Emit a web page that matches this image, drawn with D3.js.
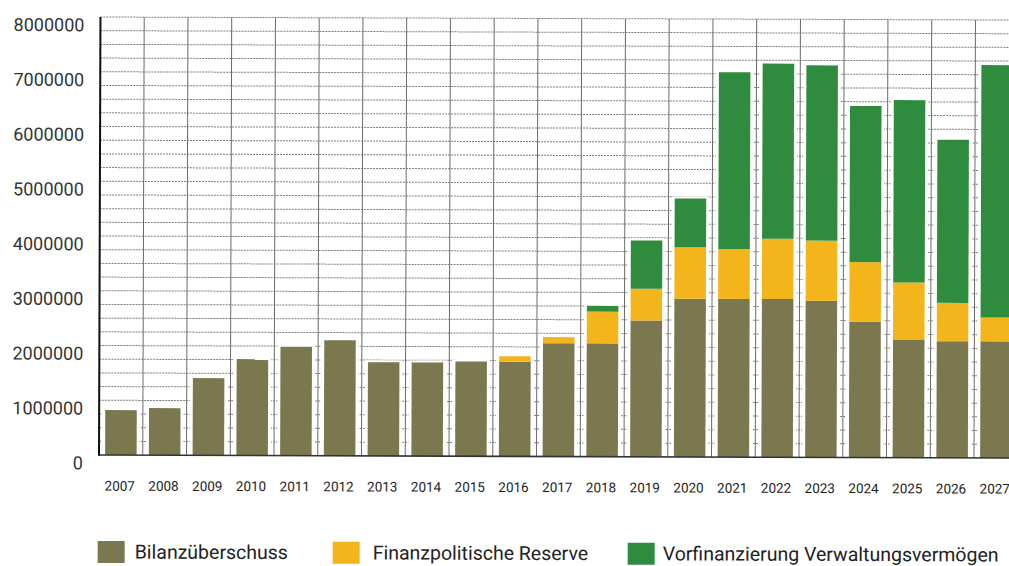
<!DOCTYPE html>
<html>
<head>
<meta charset="utf-8">
<script src="https://cdn.jsdelivr.net/npm/d3@7"></script>
<style>
  html, body { margin: 0; padding: 0; background: #fff; }
  svg { display: block; }
</style>
</head>
<body>
<svg id="chart" width="1009" height="566"></svg>
<script>
// ---- data ----
const years = ["2007","2008","2009","2010","2011","2012","2013","2014","2015","2016","2017",
               "2018","2019","2020","2021","2022","2023","2024","2025","2026","2027"];
const bilanzueberschuss = [820000, 860000, 1410000, 1760000, 1990000, 2110000, 1710000, 1710000, 1730000, 1730000, 2070000,
                           2070000, 2490000, 2890000, 2890000, 2890000, 2860000, 2480000, 2150000, 2130000, 2130000];
const finanzpolitischeReserve = [0, 0, 0, 0, 0, 0, 0, 0, 0, 100000, 110000,
                                 580000, 580000, 940000, 910000, 1100000, 1100000, 1090000, 1050000, 700000, 435000];
const vorfinanzierung = [0, 0, 0, 0, 0, 0, 0, 0, 0, 0, 0,
                         105000, 880000, 890000, 3230000, 3200000, 3200000, 2850000, 3330000, 2980000, 4610000];
const seriesNames = ["Bilanzüberschuss", "Finanzpolitische Reserve", "Vorfinanzierung Verwaltungsvermögen"];
const yTicks = [0, 1000000, 2000000, 3000000, 4000000, 5000000, 6000000, 7000000, 8000000];
const colors = ["#7b774f", "#f3b51b", "#2f8b3d"];

// ---- layout ----
const svg = d3.select("#chart");
const g = svg.append("g").attr("transform", "rotate(0.19, 100, 455)");

const step = 43.75;
const x = d3.scaleBand().domain(years)
  .range([99, 99 + years.length * step])
  .paddingInner(0.28).paddingOuter(0.14);
const y = d3.scaleLinear().domain([0, 8000000]).range([455, 17]);
const gap = (x.step() - x.bandwidth()) / 2;

// horizontal dotted gridlines every 250000
const minor = d3.range(250000, 8000001, 250000);
g.append("g").selectAll("line").data(minor).join("line")
  .attr("x1", 99).attr("x2", 1030)
  .attr("y1", d => y(d)).attr("y2", d => y(d))
  .attr("stroke", "#7c7c7c").attr("stroke-width", 1)
  .attr("stroke-dasharray", "2,1");

// vertical gridlines at category boundaries
g.append("g").selectAll("line").data(years.slice(1)).join("line")
  .attr("x1", d => x(d) - gap).attr("x2", d => x(d) - gap)
  .attr("y1", y(8000000)).attr("y2", y(0))
  .attr("stroke", "#6a6a6a").attr("stroke-width", 1);

// stacked data
const rows = years.map((yr, i) => ({
  year: yr,
  [seriesNames[0]]: bilanzueberschuss[i],
  [seriesNames[1]]: finanzpolitischeReserve[i],
  [seriesNames[2]]: vorfinanzierung[i]
}));
const stack = d3.stack().keys(seriesNames)(rows);
const total = d => d[seriesNames[0]] + d[seriesNames[1]] + d[seriesNames[2]];

// white halo behind bars
g.append("g").selectAll("rect").data(rows).join("rect")
  .attr("x", d => x(d.year) - 3)
  .attr("width", x.bandwidth() + 6)
  .attr("y", d => y(total(d)) - 2)
  .attr("height", d => y(0) - y(total(d)) + 2)
  .attr("fill", "#fff");

g.append("g").selectAll("g").data(stack).join("g")
  .attr("fill", (d, i) => colors[i])
  .selectAll("rect").data(d => d).join("rect")
  .attr("x", d => x(d.data.year))
  .attr("width", x.bandwidth())
  .attr("y", d => y(d[1]))
  .attr("height", d => Math.max(0, y(d[0]) - y(d[1])));

// axes lines
g.append("line").attr("x1", 99).attr("x2", 1030).attr("y1", y(0)).attr("y2", y(0))
  .attr("stroke", "#333").attr("stroke-width", 1.6);
g.append("line").attr("x1", 99).attr("x2", 99).attr("y1", y(8000000)).attr("y2", y(0) + 0.8)
  .attr("stroke", "#111").attr("stroke-width", 2);

// y tick labels
const yAxis = d3.axisLeft(y).tickValues(yTicks).tickFormat(d3.format("d")).tickSize(0).tickPadding(0);
const ya = g.append("g").attr("transform", "translate(83,8)").call(yAxis);
ya.select(".domain").remove();
ya.selectAll("text")
  .attr("font-family", "Roboto, 'Noto Sans', sans-serif")
  .attr("font-weight", 400)
  .attr("font-size", 18).attr("fill", "#333");

// x tick labels
const xAxis = d3.axisBottom(x).tickSize(0).tickPadding(0);
const xa = g.append("g").attr("transform", "translate(-1,481)").call(xAxis);
xa.select(".domain").remove();
xa.selectAll("text")
  .attr("font-family", "Roboto, 'Noto Sans', sans-serif")
  .attr("font-size", 13.5).attr("fill", "#1e1e1e");

// legend
const legendX = [98, 333, 628];
const lg = g.append("g").selectAll("g").data(seriesNames).join("g")
  .attr("transform", (d, i) => `translate(${legendX[i]},541)`);
lg.append("rect").attr("width", 27).attr("height", 22)
  .attr("fill", (d, i) => colors[i]);
lg.append("text").attr("x", (d, i) => i === 2 ? 35 : (i === 1 ? 40 : 37)).attr("y", 11)
  .attr("dominant-baseline", "central")
  .attr("font-family", "Roboto, 'Noto Sans', sans-serif")
  .attr("font-size", 19.5).attr("fill", "#222")
  .text(d => d);
</script>
</body>
</html>
